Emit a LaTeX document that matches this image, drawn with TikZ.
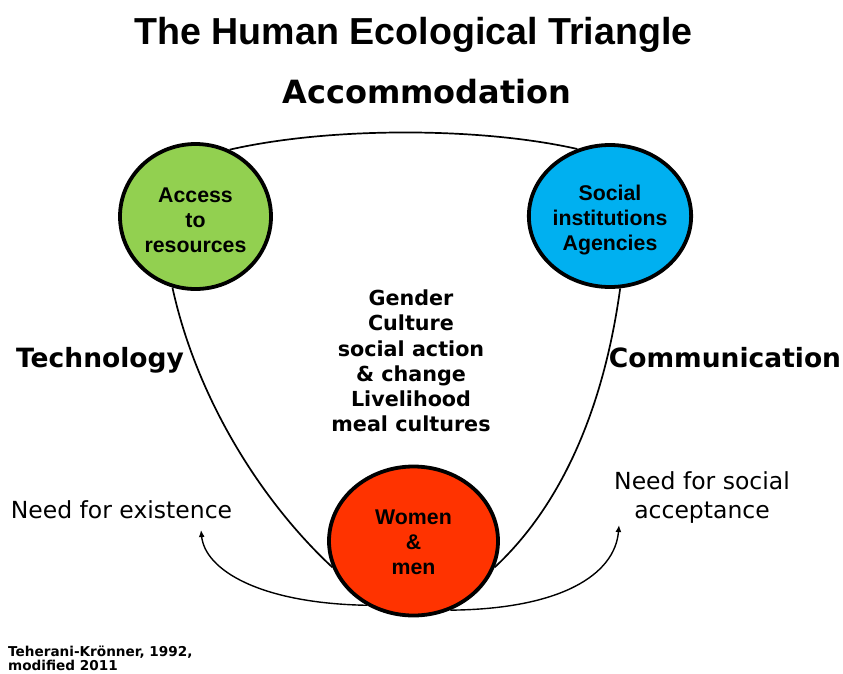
\documentclass[tikz,border=0pt]{standalone}
\usepackage{fontspec}
\setmainfont{Liberation Sans}
\newfontfamily\dvs{DejaVu Sans}
\usetikzlibrary{shapes.geometric,arrows.meta}
\definecolor{cgreen}{HTML}{92D050}
\definecolor{cblue}{HTML}{00B0F0}
\definecolor{cred}{HTML}{FF3300}
\begin{document}
\begin{tikzpicture}[x=1pt,y=-1pt,
  blob/.style={ellipse,draw=black,line width=3.8pt,inner sep=0pt,align=center,
    font=\bfseries\fontsize{21.3}{25}\selectfont},
  link/.style={line width=1.7pt},
  arr/.style={line width=1.4pt,-{Latex[length=7pt,width=6pt]}},
  plain/.style={inner sep=0pt,font=\dvs\fontsize{23.5}{29}\selectfont,align=center},
  side/.style={inner sep=0pt,anchor=base,font=\dvs\bfseries\fontsize{26.5}{30}\selectfont}]
\useasboundingbox (0,0) rectangle (843,673);
\fill[white] (0,0) rectangle (843,673);

\node[inner sep=0pt,anchor=base,font=\bfseries\fontsize{37.6}{40}\selectfont] (title) at (413.5,44) {The Human Ecological Triangle};
\node[inner sep=0pt,anchor=base,font=\dvs\bfseries\fontsize{32}{34}\selectfont] (acc) at (427,103) {Accommodation};
\node[side] (tech) at (100,367) {Technology};
\node[side] (comm) at (725,367) {Communication};

\node[blob,fill=cgreen,minimum width=151pt,minimum height=145pt] (green) at (195.5,216.5) {\rule{0pt}{22pt}Access\\to\\resources};
\node[blob,fill=cblue,minimum width=152pt,minimum height=142pt] (blue) at (610,216) {\rule{0pt}{23pt}Social\\institutions\\Agencies};
\node[blob,fill=cred,minimum width=169pt,minimum height=149pt] (red) at (413.5,541) {\rule{0pt}{17.5pt}Women\\\&\\men};

\node[inner sep=0pt,align=center,font=\dvs\bfseries\fontsize{20.7}{25.3}\selectfont] (mid) at (411,361)
  {Gender\\Culture\\social action\\\& change\\Livelihood\\meal cultures};

\node[plain] (exist) at (121.5,510) {Need for existence};
\node[plain] (accept) at (702,498) {Need for social\\acceptance};

\node[inner sep=0pt,anchor=north west,align=left,font=\dvs\bfseries\fontsize{13.6}{14.2}\selectfont] (cite) at (8,646)
  {Teherani-Krönner, 1992,\\modified 2011};

\coordinate (existL) at (201,530);
\coordinate (acceptR) at (619,525);

\draw[link] (green.63) .. controls +(100,-23) and +(-97,-22) .. (blue.116);
\draw[link] (green.-108) .. controls +(24,110) and +(-72,-67) .. (red.-162);
\draw[link] (blue.-82) .. controls +(-15,110) and +(72,-67) .. (red.-18);
\draw[arr] (red.-126) .. controls +(-107,-2) and +(4,40) .. (existL);
\draw[arr] (red.-62) .. controls +(110,-1) and +(-4,50) .. (acceptR);
\end{tikzpicture}
\end{document}
